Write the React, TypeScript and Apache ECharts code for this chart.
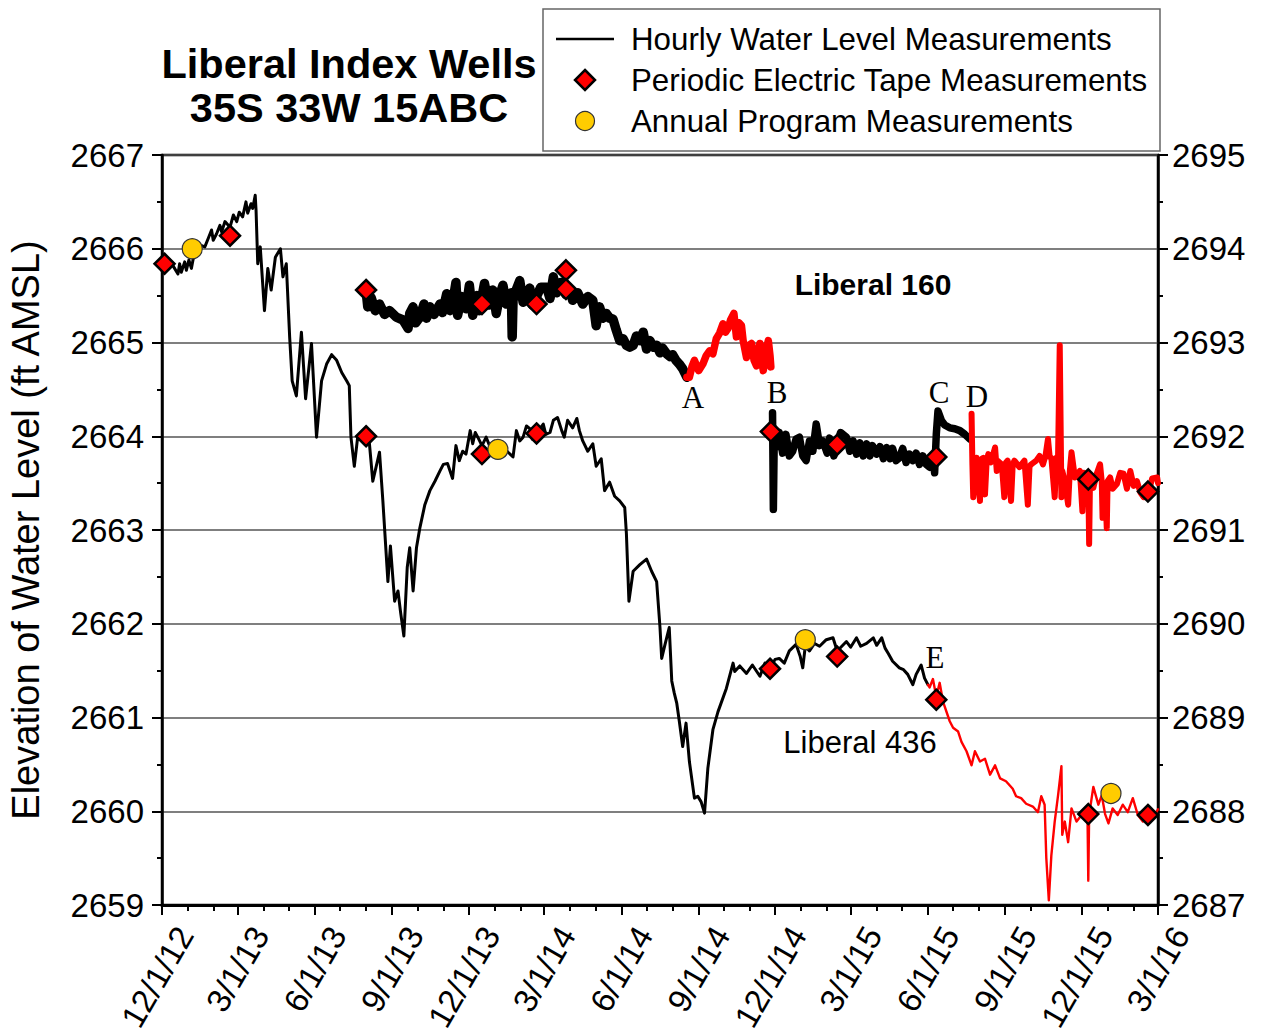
import React, { useEffect, useRef } from 'react';
import * as echarts from 'echarts';

// ---------- axis ticks ----------
const xMajorDates = ['2012-12-01','2013-03-01','2013-06-01','2013-09-01','2013-12-01','2014-03-01','2014-06-01','2014-09-01','2014-12-01','2015-03-01','2015-06-01','2015-09-01','2015-12-01','2016-03-01'];
const xMajorLabels = ['12/1/12','3/1/13','6/1/13','9/1/13','12/1/13','3/1/14','6/1/14','9/1/14','12/1/14','3/1/15','6/1/15','9/1/15','12/1/15','3/1/16'];
const xMinorDates = ['2012-12-01','2013-01-01','2013-02-01','2013-03-01','2013-04-01','2013-05-01','2013-06-01','2013-07-01','2013-08-01','2013-09-01','2013-10-01','2013-11-01','2013-12-01','2014-01-01','2014-02-01','2014-03-01','2014-04-01','2014-05-01','2014-06-01','2014-07-01','2014-08-01','2014-09-01','2014-10-01','2014-11-01','2014-12-01','2015-01-01','2015-02-01','2015-03-01','2015-04-01','2015-05-01','2015-06-01','2015-07-01','2015-08-01','2015-09-01','2015-10-01','2015-11-01','2015-12-01','2016-01-01','2016-02-01','2016-03-01'];
const leftAxisRange = [2659, 2667];
const rightAxisRange = [2687, 2695];

// ---------- Liberal 436 (left axis) ----------
const l436Black: [string, number][] = [
['2012-12-04',2665.84],['2012-12-10',2665.88],['2012-12-14',2665.82],['2012-12-20',2665.73],['2012-12-22',2665.84],['2012-12-24',2665.75],['2012-12-28',2665.86],['2012-12-30',2665.77],
['2013-01-02',2665.88],['2013-01-05',2665.79],['2013-01-09',2665.98],['2013-01-15',2666.04],['2013-01-21',2666.02],['2013-01-25',2666.11],['2013-01-29',2666.20],['2013-01-31',2666.09],
['2013-02-04',2666.16],['2013-02-08',2666.25],['2013-02-10',2666.18],['2013-02-14',2666.29],['2013-02-20',2666.23],['2013-02-24',2666.36],['2013-02-28',2666.29],
['2013-03-03',2666.39],['2013-03-07',2666.34],['2013-03-11',2666.50],['2013-03-13',2666.38],['2013-03-17',2666.48],['2013-03-19',2666.43],['2013-03-22',2666.57],['2013-03-23',2666.41],['2013-03-25',2665.84],['2013-03-28',2666.02],
['2013-04-02',2665.34],['2013-04-06',2665.79],['2013-04-10',2665.56],['2013-04-15',2665.91],['2013-04-21',2666.00],['2013-04-24',2665.70],['2013-04-28',2665.84],
['2013-05-02',2665.06],['2013-05-05',2664.59],['2013-05-10',2664.43],['2013-05-16',2665.11],['2013-05-21',2664.40],['2013-05-28',2664.99],
['2013-06-03',2663.99],['2013-06-09',2664.59],['2013-06-15',2664.77],['2013-06-21',2664.87],['2013-06-27',2664.81],
['2013-07-03',2664.68],['2013-07-09',2664.59],['2013-07-12',2664.54],['2013-07-14',2663.99],['2013-07-18',2663.68],['2013-07-22',2663.99],['2013-07-27',2663.95],
['2013-08-01',2664.00],['2013-08-05',2663.92],['2013-08-09',2663.52],['2013-08-17',2663.83],['2013-08-21',2663.31],['2013-08-27',2662.45],['2013-08-30',2662.83],
['2013-09-04',2662.24],['2013-09-08',2662.35],['2013-09-11',2662.13],['2013-09-15',2661.87],['2013-09-19',2662.60],['2013-09-22',2662.81],['2013-09-26',2662.35],['2013-09-30',2662.81],
['2013-10-04',2663.02],['2013-10-10',2663.27],['2013-10-16',2663.42],['2013-10-22',2663.52],['2013-10-28',2663.63],
['2013-11-01',2663.70],['2013-11-06',2663.71],['2013-11-12',2663.55],['2013-11-16',2663.90],['2013-11-20',2663.74],['2013-11-24',2663.84],['2013-11-28',2663.81],
['2013-12-03',2664.06],['2013-12-06',2663.92],['2013-12-09',2664.04],['2013-12-12',2663.99],['2013-12-17',2663.90],['2013-12-22',2663.99],['2013-12-26',2663.90],
['2014-01-01',2663.95],['2014-01-11',2663.88],['2014-01-23',2663.78],['2014-01-27',2664.06],['2014-01-31',2663.95],
['2014-02-04',2663.99],['2014-02-08',2664.11],['2014-02-12',2664.08],['2014-02-15',2663.97],['2014-02-20',2664.03],['2014-02-28',2664.13],
['2014-03-03',2664.02],['2014-03-08',2664.04],['2014-03-12',2664.17],['2014-03-17',2664.20],['2014-03-22',2664.06],['2014-03-25',2663.99],['2014-03-29',2664.17],
['2014-04-04',2664.09],['2014-04-09',2664.19],['2014-04-12',2664.06],['2014-04-16',2663.95],['2014-04-22',2663.84],['2014-04-28',2663.92],
['2014-05-02',2663.68],['2014-05-08',2663.76],['2014-05-12',2663.42],['2014-05-18',2663.51],['2014-05-24',2663.36],['2014-05-30',2663.31],
['2014-06-05',2663.24],['2014-06-07',2662.96],['2014-06-10',2662.24],['2014-06-15',2662.56],['2014-06-23',2662.63],
['2014-07-01',2662.69],['2014-07-07',2662.56],['2014-07-13',2662.45],['2014-07-17',2661.96],['2014-07-19',2661.63],['2014-07-23',2661.78],['2014-07-28',2661.96],['2014-07-31',2661.39],
['2014-08-03',2661.26],['2014-08-06',2661.15],['2014-08-09',2660.96],['2014-08-13',2660.69],['2014-08-17',2660.94],['2014-08-21',2660.53],['2014-08-27',2660.14],['2014-08-31',2660.16],
['2014-09-04',2660.10],['2014-09-08',2659.98],['2014-09-12',2660.46],['2014-09-18',2660.87],['2014-09-24',2661.06],
['2014-10-04',2661.31],['2014-10-12',2661.58],['2014-10-14',2661.49],['2014-10-20',2661.55],['2014-10-28',2661.47],
['2014-11-04',2661.56],['2014-11-13',2661.44],['2014-11-19',2661.58],['2014-11-25',2661.52],
['2014-12-01',2661.62],['2014-12-06',2661.63],['2014-12-12',2661.58],['2014-12-18',2661.71],['2014-12-26',2661.78],['2014-12-31',2661.65],
['2015-01-03',2661.53],['2015-01-06',2661.76],['2015-01-11',2661.71],['2015-01-17',2661.79],['2015-01-23',2661.76],['2015-01-31',2661.83],
['2015-02-08',2661.85],['2015-02-13',2661.71],['2015-02-24',2661.81],
['2015-03-01',2661.75],['2015-03-08',2661.85],['2015-03-13',2661.76],['2015-03-20',2661.79],['2015-03-28',2661.85],
['2015-04-01',2661.77],['2015-04-07',2661.85],['2015-04-11',2661.74],['2015-04-15',2661.68],['2015-04-20',2661.60],['2015-04-28',2661.53],
['2015-05-03',2661.51],['2015-05-08',2661.46],['2015-05-14',2661.35],['2015-05-18',2661.46],['2015-05-24',2661.56],['2015-05-28',2661.42],['2015-06-01',2661.35],
];
const l436Red: [string, number][] = [
['2015-06-01',2661.35],['2015-06-03',2661.32],['2015-06-07',2661.41],['2015-06-11',2661.22],['2015-06-15',2661.37],['2015-06-19',2661.17],['2015-06-27',2660.96],
['2015-07-01',2660.89],['2015-07-07',2660.85],['2015-07-11',2660.74],['2015-07-17',2660.64],['2015-07-23',2660.49],['2015-07-27',2660.64],
['2015-08-02',2660.53],['2015-08-08',2660.56],['2015-08-14',2660.39],['2015-08-20',2660.49],['2015-08-26',2660.35],
['2015-09-02',2660.32],['2015-09-10',2660.24],['2015-09-14',2660.16],['2015-09-20',2660.14],['2015-09-26',2660.08],
['2015-10-04',2660.05],['2015-10-10',2659.99],['2015-10-14',2660.16],['2015-10-18',2660.07],['2015-10-20',2659.50],['2015-10-23',2659.05],['2015-10-26',2659.53],['2015-10-30',2659.89],
['2015-11-03',2660.17],['2015-11-07',2660.48],['2015-11-08',2659.75],['2015-11-11',2659.89],['2015-11-15',2659.67],['2015-11-19',2660.03],['2015-11-25',2659.89],
['2015-12-01',2659.96],['2015-12-06',2660.02],['2015-12-08',2660.00],['2015-12-09',2659.26],['2015-12-10',2659.96],['2015-12-15',2660.26],['2015-12-21',2660.07],['2015-12-25',2660.17],['2015-12-29',2659.97],
['2016-01-02',2659.87],['2016-01-07',2660.03],['2016-01-13',2659.96],['2016-01-19',2660.07],['2016-01-25',2659.99],['2016-01-31',2660.14],
['2016-02-06',2659.96],['2016-02-12',2659.89],['2016-02-18',2659.96],['2016-02-26',2659.96],['2016-03-01',2660.02],
];

// ---------- Liberal 160 (right axis) ----------
const l160BlackA: [string, number][] = [
['2013-08-01',2693.56],['2013-08-03',2693.38],['2013-08-07',2693.48],['2013-08-12',2693.34],['2013-08-17',2693.41],['2013-08-23',2693.30],['2013-08-29',2693.34],
['2013-09-06',2693.27],['2013-09-14',2693.24],['2013-09-20',2693.15],['2013-09-22',2693.31],['2013-09-26',2693.38],['2013-09-29',2693.21],
['2013-10-04',2693.27],['2013-10-09',2693.41],['2013-10-12',2693.26],['2013-10-16',2693.38],['2013-10-21',2693.30],['2013-10-28',2693.41],['2013-10-31',2693.32],
['2013-11-05',2693.52],['2013-11-09',2693.34],['2013-11-13',2693.47],['2013-11-16',2693.64],['2013-11-18',2693.29],['2013-11-23',2693.49],['2013-11-28',2693.36],
['2013-12-02',2693.61],['2013-12-06',2693.29],['2013-12-11',2693.50],['2013-12-14',2693.34],['2013-12-20',2693.63],['2013-12-25',2693.40],['2013-12-30',2693.56],
['2014-01-03',2693.31],['2014-01-07',2693.50],['2014-01-11',2693.61],['2014-01-15',2693.41],['2014-01-19',2693.48],['2014-01-21',2693.53],['2014-01-22',2693.06],['2014-01-23',2693.45],['2014-01-25',2693.52],['2014-01-31',2693.66],
['2014-02-04',2693.43],['2014-02-08',2693.48],['2014-02-12',2693.58],['2014-02-15',2693.40],['2014-02-20',2693.49],['2014-02-25',2693.59],
['2014-03-04',2693.59],['2014-03-08',2693.47],['2014-03-12',2693.70],['2014-03-16',2693.53],['2014-03-21',2693.64],['2014-03-27',2693.51],
['2014-04-01',2693.56],['2014-04-04',2693.45],['2014-04-10',2693.53],['2014-04-16',2693.41],['2014-04-22',2693.49],['2014-04-28',2693.45],
['2014-05-02',2693.18],['2014-05-06',2693.38],['2014-05-10',2693.26],['2014-05-14',2693.31],['2014-05-18',2693.26],['2014-05-22',2693.25],['2014-05-26',2693.13],['2014-05-30',2693.02],
['2014-06-03',2693.04],['2014-06-07',2692.97],['2014-06-11',2692.95],['2014-06-15',2692.97],['2014-06-19',2693.07],['2014-06-23',2693.02],['2014-06-27',2693.11],
['2014-07-01',2692.93],['2014-07-05',2693.02],['2014-07-09',2692.95],['2014-07-13',2692.97],['2014-07-17',2692.89],['2014-07-20',2692.94],['2014-07-25',2692.88],['2014-07-29',2692.85],
['2014-08-01',2692.87],['2014-08-05',2692.81],['2014-08-09',2692.77],['2014-08-13',2692.72],['2014-08-18',2692.63],
];
const l160RedA: [string, number][] = [
['2014-08-18',2692.63],['2014-08-21',2692.63],['2014-08-24',2692.74],['2014-08-27',2692.81],['2014-09-01',2692.70],['2014-09-06',2692.77],['2014-09-10',2692.86],['2014-09-14',2692.91],
['2014-09-18',2692.88],['2014-09-22',2693.04],['2014-09-26',2693.10],['2014-09-30',2693.20],['2014-10-03',2693.11],['2014-10-06',2693.15],['2014-10-09',2693.24],['2014-10-13',2693.31],
['2014-10-16',2693.06],['2014-10-19',2693.21],['2014-10-22',2693.18],['2014-10-24',2693.02],['2014-10-28',2692.84],['2014-10-31',2692.97],['2014-11-03',2692.99],['2014-11-06',2692.81],
['2014-11-09',2692.75],['2014-11-11',2692.91],['2014-11-13',2692.99],['2014-11-15',2692.81],['2014-11-17',2692.70],['2014-11-20',2692.91],['2014-11-23',2693.02],['2014-11-25',2692.86],['2014-11-26',2692.74],
];
const l160BlackB: [string, number][] = [
['2014-11-28',2692.25],['2014-11-29',2691.22],['2014-11-30',2691.95],['2014-12-02',2691.88],['2014-12-06',2692.04],['2014-12-10',2691.82],['2014-12-14',2692.02],['2014-12-18',2691.79],['2014-12-22',2691.84],['2014-12-26',2691.97],['2014-12-30',2691.99],
['2015-01-03',2691.79],['2015-01-07',2691.74],['2015-01-11',2691.95],['2015-01-15',2691.84],['2015-01-19',2692.13],['2015-01-23',2691.90],['2015-01-27',2691.95],
['2015-02-01',2691.82],['2015-02-04',2691.98],['2015-02-09',2691.79],['2015-02-13',2691.91],['2015-02-17',2692.04],['2015-02-24',2691.99],['2015-02-28',2691.84],
['2015-03-04',2691.95],['2015-03-08',2691.81],['2015-03-12',2691.93],['2015-03-16',2691.79],['2015-03-20',2691.92],['2015-03-24',2691.79],['2015-03-27',2691.90],
['2015-04-01',2691.81],['2015-04-05',2691.89],['2015-04-09',2691.76],['2015-04-13',2691.88],['2015-04-17',2691.76],['2015-04-20',2691.87],['2015-04-24',2691.74],['2015-04-28',2691.77],
['2015-05-02',2691.87],['2015-05-06',2691.72],['2015-05-10',2691.81],['2015-05-14',2691.74],['2015-05-18',2691.82],['2015-05-22',2691.70],['2015-05-26',2691.79],['2015-05-30',2691.70],
['2015-06-03',2691.67],['2015-06-07',2691.79],['2015-06-09',2691.61],['2015-06-11',2692.02],['2015-06-13',2692.27],['2015-06-17',2692.17],['2015-06-21',2692.12],['2015-06-27',2692.09],
['2015-07-03',2692.08],['2015-07-09',2692.06],['2015-07-15',2692.02],['2015-07-21',2691.97],
];
const l160RedB: [string, number][] = [
['2015-07-23',2692.24],['2015-07-24',2691.70],['2015-07-25',2691.35],['2015-07-29',2691.77],['2015-08-02',2691.31],['2015-08-04',2691.76],['2015-08-06',2691.77],['2015-08-08',2691.38],
['2015-08-10',2691.74],['2015-08-12',2691.81],['2015-08-15',2691.72],['2015-08-20',2691.88],['2015-08-22',2691.63],['2015-08-23',2691.74],['2015-08-28',2691.70],['2015-08-31',2691.35],
['2015-09-02',2691.72],['2015-09-04',2691.74],['2015-09-08',2691.31],['2015-09-10',2691.70],['2015-09-12',2691.74],['2015-09-18',2691.67],['2015-09-24',2691.74],['2015-09-28',2691.27],['2015-09-30',2691.68],
['2015-10-02',2691.70],['2015-10-08',2691.74],['2015-10-12',2691.79],['2015-10-16',2691.70],['2015-10-19',2691.79],['2015-10-22',2691.97],['2015-10-24',2691.78],['2015-10-26',2691.77],['2015-10-30',2691.35],
['2015-11-01',2691.77],['2015-11-03',2691.79],['2015-11-05',2692.97],['2015-11-07',2691.35],['2015-11-08',2691.63],['2015-11-11',2691.52],['2015-11-15',2691.27],['2015-11-17',2691.63],['2015-11-19',2691.83],['2015-11-23',2691.56],['2015-11-29',2691.63],
['2015-12-02',2691.20],['2015-12-04',2691.61],['2015-12-09',2691.54],['2015-12-10',2690.85],['2015-12-11',2691.52],['2015-12-15',2691.45],['2015-12-19',2691.60],['2015-12-23',2691.70],['2015-12-25',2691.52],['2015-12-26',2691.13],['2015-12-29',2691.47],['2015-12-31',2691.02],
['2016-01-01',2691.52],['2016-01-04',2691.56],['2016-01-07',2691.44],['2016-01-12',2691.49],['2016-01-16',2691.61],['2016-01-20',2691.60],['2016-01-24',2691.44],['2016-01-28',2691.63],
['2016-02-01',2691.47],['2016-02-05',2691.52],['2016-02-09',2691.40],['2016-02-13',2691.35],['2016-02-19',2691.41],['2016-02-23',2691.55],['2016-02-29',2691.56],['2016-03-01',2691.50],
];

// ---------- point measurements ----------
const tape436: [string, number][] = [
['2012-12-04',2665.84],['2013-02-20',2666.14],['2013-08-01',2664.00],['2013-12-17',2663.81],['2014-02-20',2664.03],['2014-11-25',2661.52],['2015-02-13',2661.65],['2015-06-11',2661.19],['2015-12-09',2659.97],['2016-02-18',2659.96],
];
const tape160: [string, number][] = [
['2013-08-01',2693.56],['2013-12-17',2693.41],['2014-02-20',2693.41],['2014-03-27',2693.77],['2014-03-27',2693.57],['2014-11-26',2692.05],['2015-02-13',2691.91],['2015-06-11',2691.78],['2015-12-09',2691.54],['2016-02-18',2691.41],
];
const annual436: [string, number][] = [
['2013-01-06',2666.00],['2014-01-05',2663.86],['2015-01-06',2661.83],['2016-01-05',2660.19],
];

const annotations = [
  { text: 'A', x: 693, y: 397 }, { text: 'B', x: 777, y: 392 }, { text: 'C', x: 939, y: 392 },
  { text: 'D', x: 977, y: 396 }, { text: 'E', x: 935, y: 657 },
];

const FONT = "'Liberation Sans', Arial, Helvetica, sans-serif";
const SERIF = "'Liberation Serif', 'Times New Roman', serif";

const ts = (s: string) => { const [y, m, d] = s.split('-').map(Number); return Date.UTC(y, m - 1, d); };
const toData = (arr: [string, number][]) => arr.map(([d, v]) => [ts(d), v]);
const majorTimes = xMajorDates.map(ts);
const minorTimes = xMinorDates.map(ts);
const X_MIN = ts('2012-12-01');
const X_MAX = ts('2016-03-01');

const lineSeries = (name: string, arr: [string, number][], color: string, width: number, yAxisIndex: number) => ({
  type: 'line', name, data: toData(arr), yAxisIndex, xAxisIndex: 0, showSymbol: false, symbol: 'none',
  lineStyle: { color, width, join: 'round', cap: 'round' }, itemStyle: { color }, silent: true, z: 2,
});

function buildOption() {
  const tickStyle = { color: '#000', width: 2 };
  const labelStyle = { fontSize: 33, fontFamily: FONT, color: '#000', formatter: (v: number) => String(v) };
  return {
    animation: false,
    backgroundColor: '#ffffff',
    grid: {
      left: 162, right: 103, top: 155, bottom: 128, containLabel: false, outerBoundsMode: 'none',
      show: true, borderColor: '#000', borderWidth: 2.5, backgroundColor: 'rgba(0,0,0,0)',
    },
    xAxis: [
      {
        type: 'value', min: X_MIN, max: X_MAX, position: 'bottom', scale: true,
        axisLine: { show: true, onZero: false, lineStyle: { color: '#000', width: 3 } },
        axisTick: { show: true, length: 10, lineStyle: tickStyle, customValues: majorTimes },
        axisLabel: {
          show: true, customValues: majorTimes, rotate: 60, margin: 11, verticalAlign: 'top', padding: [10, 0, 0, 0],
          fontSize: 33, fontFamily: FONT, color: '#000',
          formatter: (v: number) => { const i = majorTimes.indexOf(v); return i >= 0 ? xMajorLabels[i] : ''; },
        },
        splitLine: { show: false },
      },
      {
        type: 'value', min: X_MIN, max: X_MAX, position: 'bottom', scale: true,
        axisLine: { show: false, onZero: false },
        axisTick: { show: true, length: 6, lineStyle: tickStyle, customValues: minorTimes },
        axisLabel: { show: false },
        splitLine: { show: false },
      },
    ],
    yAxis: [
      {
        type: 'value', min: leftAxisRange[0], max: leftAxisRange[1], interval: 1, position: 'left',
        name: 'Elevation of Water Level (ft AMSL)', nameLocation: 'middle', nameRotate: 90, nameGap: 117,
        nameTextStyle: { fontSize: 38, fontFamily: FONT, color: '#000' },
        axisLine: { show: true, lineStyle: { color: '#000', width: 2.5 } },
        axisTick: { show: true, length: 10, lineStyle: tickStyle },
        minorTick: { show: true, splitNumber: 2, length: 5, lineStyle: tickStyle },
        axisLabel: { margin: 18, ...labelStyle },
        splitLine: { show: true, lineStyle: { color: '#555', width: 1.5 } },
      },
      {
        type: 'value', min: rightAxisRange[0], max: rightAxisRange[1], interval: 1, position: 'right',
        axisLine: { show: true, lineStyle: { color: '#000', width: 2.5 } },
        axisTick: { show: true, length: 10, lineStyle: tickStyle },
        minorTick: { show: true, splitNumber: 2, length: 5, lineStyle: tickStyle },
        axisLabel: { margin: 14, ...labelStyle },
        splitLine: { show: false },
      },
    ],
    series: [
      lineSeries('Liberal 436 hourly', l436Black, '#000', 3, 0),
      lineSeries('Liberal 436 hourly (red)', l436Red, '#ff0000', 2.4, 0),
      lineSeries('Liberal 160 hourly', l160BlackA, '#000', 9.5, 1),
      lineSeries('Liberal 160 hourly (red)', l160RedA, '#ff0000', 7.5, 1),
      lineSeries('Liberal 160 hourly B', l160BlackB, '#000', 7.5, 1),
      lineSeries('Liberal 160 hourly (red) B', l160RedB, '#ff0000', 6, 1),
      {
        type: 'scatter', name: 'Periodic Electric Tape Measurements (436)', data: toData(tape436), yAxisIndex: 0,
        symbol: 'diamond', symbolSize: 20, itemStyle: { color: '#ff0000', borderColor: '#000', borderWidth: 2.5, opacity: 1 }, z: 5, silent: true,
      },
      {
        type: 'scatter', name: 'Periodic Electric Tape Measurements (160)', data: toData(tape160), yAxisIndex: 1,
        symbol: 'diamond', symbolSize: 20, itemStyle: { color: '#ff0000', borderColor: '#000', borderWidth: 2.5, opacity: 1 }, z: 5, silent: true,
      },
      {
        type: 'scatter', name: 'Annual Program Measurements', data: toData(annual436), yAxisIndex: 0,
        symbol: 'circle', symbolSize: 20, itemStyle: { color: '#ffcc00', borderColor: '#333', borderWidth: 1.2, opacity: 1 }, z: 6, silent: true,
      },
    ],
    graphic: [
      { type: 'text', x: 349, y: 63, style: { text: 'Liberal Index Wells', fontSize: 41.5, fontWeight: 'bold', fontFamily: FONT, fill: '#000', align: 'center', verticalAlign: 'middle' } },
      { type: 'text', x: 349, y: 107, style: { text: '35S 33W 15ABC', fontSize: 41.5, fontWeight: 'bold', fontFamily: FONT, fill: '#000', align: 'center', verticalAlign: 'middle' } },
      // legend
      { type: 'rect', shape: { x: 543, y: 9, width: 617, height: 142 }, style: { fill: '#fff', stroke: '#666', lineWidth: 1.5 }, z: 50 },
      { type: 'line', shape: { x1: 556, y1: 39, x2: 614, y2: 39 }, style: { stroke: '#000', lineWidth: 2.5 }, z: 51 },
      { type: 'polygon', shape: { points: [[585, 70], [595, 80], [585, 90], [575, 80]] }, style: { fill: '#ff0000', stroke: '#000', lineWidth: 2.5 }, z: 51 },
      { type: 'circle', shape: { cx: 585, cy: 121, r: 9.5 }, style: { fill: '#ffcc00', stroke: '#333', lineWidth: 1.2 }, z: 51 },
      { type: 'text', x: 631, y: 39, style: { text: 'Hourly Water Level Measurements', fontSize: 31.3, fontFamily: FONT, fill: '#000', align: 'left', verticalAlign: 'middle' }, z: 51 },
      { type: 'text', x: 631, y: 80, style: { text: 'Periodic Electric Tape Measurements', fontSize: 31.3, fontFamily: FONT, fill: '#000', align: 'left', verticalAlign: 'middle' }, z: 51 },
      { type: 'text', x: 631, y: 121, style: { text: 'Annual Program Measurements', fontSize: 31.3, fontFamily: FONT, fill: '#000', align: 'left', verticalAlign: 'middle' }, z: 51 },
      // well labels
      { type: 'text', x: 873, y: 284, style: { text: 'Liberal 160', fontSize: 30, fontWeight: 'bold', fontFamily: FONT, fill: '#000', align: 'center', verticalAlign: 'middle' }, z: 51 },
      { type: 'text', x: 860, y: 742, style: { text: 'Liberal 436', fontSize: 31, fontFamily: FONT, fill: '#000', align: 'center', verticalAlign: 'middle' }, z: 51 },
      ...annotations.map((a) => ({
        type: 'text', x: a.x, y: a.y, z: 51,
        style: { text: a.text, fontSize: 31, fontFamily: SERIF, fill: '#000', align: 'center', verticalAlign: 'middle' },
      })),
    ],
  };
}

export default function App() {
  const ref = useRef<HTMLDivElement>(null);
  useEffect(() => {
    document.body.style.margin = '0';
    const chart = echarts.init(ref.current as HTMLDivElement, null, { renderer: 'svg', width: 1261, height: 1033 });
    chart.setOption(buildOption() as any);
    return () => chart.dispose();
  }, []);
  return <div ref={ref} style={{ width: 1261, height: 1033 }} />;
}
